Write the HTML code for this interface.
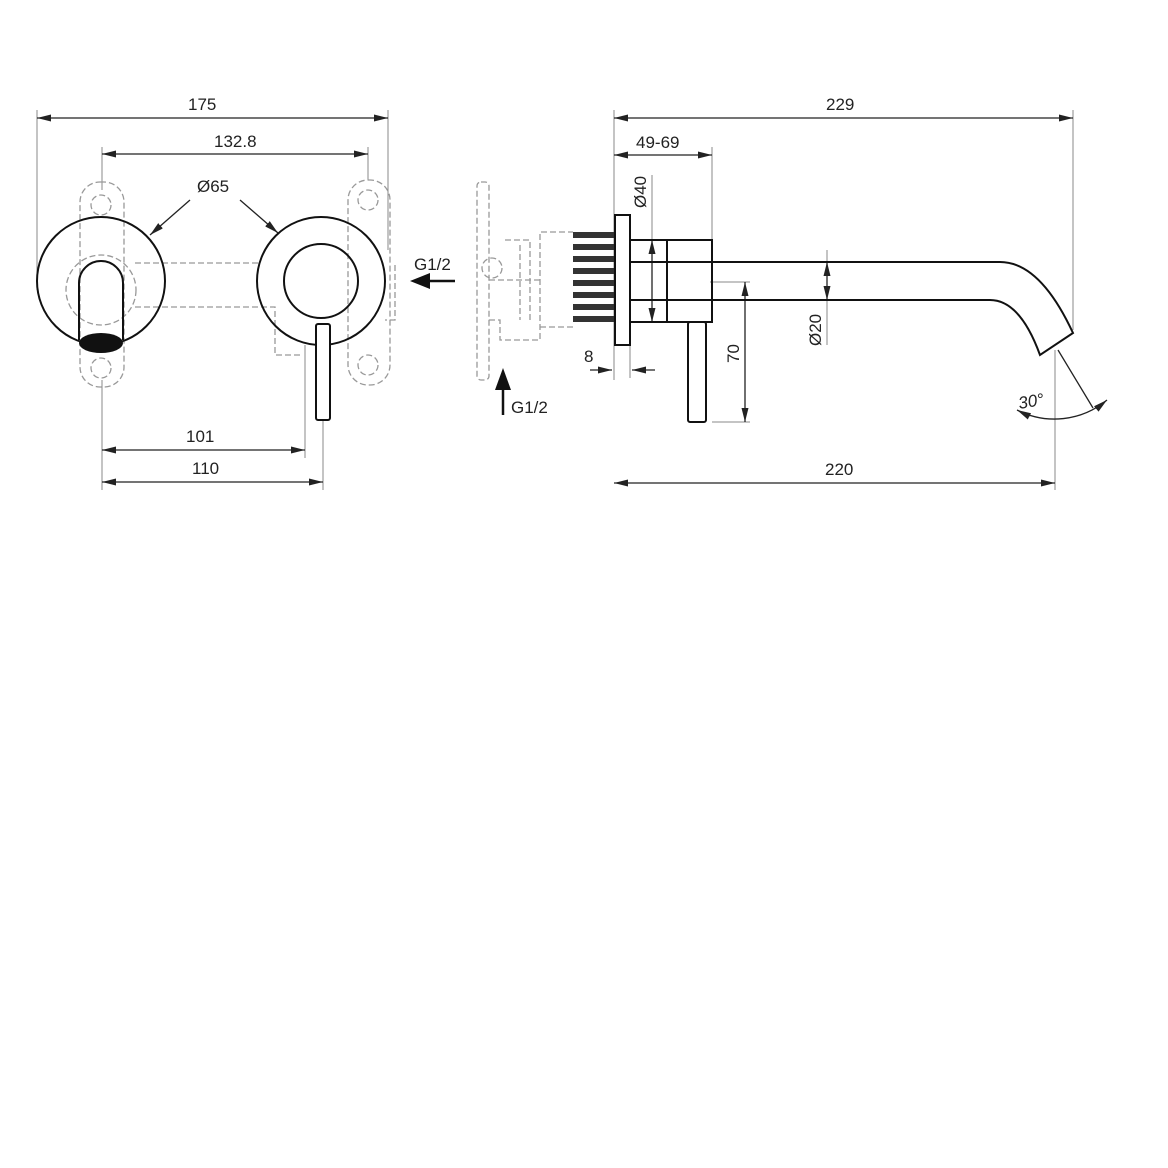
<!DOCTYPE html><html><head><style>body{margin:0;background:#fff}svg{display:block}text{font-family:"Liberation Sans",sans-serif;font-size:17px;fill:#222}</style></head><body>
<svg width="1168" height="1168" viewBox="0 0 1168 1168" xmlns="http://www.w3.org/2000/svg">
<defs><marker id="a" viewBox="0 0 12 6" refX="12" refY="3" markerWidth="14" markerHeight="7" markerUnits="userSpaceOnUse" orient="auto-start-reverse"><path d="M0,0L12,3L0,6z" fill="#222"/></marker></defs>
<g stroke="#888" stroke-width="1" fill="none">
<path d="M37,110V290M388,110V250M102,147V190M368,147V180M102,380V490M305,345V458M323,420V490M614,110V380M712,147V240M1073,110V330M1055,350V490M630,345V378M652,175V240M827,250V345M710,282H750M712,422H750"/>
</g>
<g stroke="#222" stroke-width="1.3" fill="none" marker-start="url(#a)" marker-end="url(#a)">
<line x1="37" y1="118" x2="388" y2="118"/><line x1="102" y1="154" x2="368" y2="154"/>
<line x1="102" y1="450" x2="305" y2="450"/><line x1="102" y1="482" x2="323" y2="482"/>
<line x1="614" y1="118" x2="1073" y2="118"/><line x1="614" y1="155" x2="712" y2="155"/>
<line x1="614" y1="483" x2="1055" y2="483"/><line x1="652" y1="240" x2="652" y2="322"/>
<line x1="745" y1="282" x2="745" y2="422"/><line x1="827" y1="262" x2="827" y2="300"/>
</g>
<g stroke="#222" stroke-width="1.3" fill="none">
<path d="M590,370H612" marker-end="url(#a)"/><path d="M655,370H632" marker-end="url(#a)"/>
<path d="M190,200L150,235" marker-end="url(#a)"/><path d="M240,200L278,233" marker-end="url(#a)"/>
<path d="M1058,350L1093,408"/>
<path d="M1017,410A82,82 0 0 0 1107,400" marker-start="url(#a)" marker-end="url(#a)"/>
</g>
<g stroke="#999" stroke-width="1.3" fill="none" stroke-dasharray="6,3">
<rect x="80" y="182" width="44" height="205" rx="20"/><rect x="348" y="180" width="42" height="205" rx="20"/>
<circle cx="101" cy="205" r="10"/><circle cx="101" cy="368" r="10"/><circle cx="368" cy="200" r="10"/><circle cx="368" cy="365" r="10"/>
<circle cx="101" cy="290" r="35"/>
<path d="M135,263H260M135,307H275V355H300M395,265V320H385"/>
<rect x="477" y="182" width="12" height="198" rx="4"/>
<path d="M489,280H540M489,320H500V340H540V232H573M540,327H573"/>
<path d="M505,240H530V320M520,245V320"/>
<circle cx="492" cy="268" r="10"/>
</g>
<g stroke="#111" stroke-width="2" fill="none">
<circle cx="101" cy="281" r="64"/><circle cx="321" cy="281" r="64"/><circle cx="321" cy="281" r="37"/>
<path d="M79,340V283A22,22 0 0 1 123,283V340"/>
<rect x="316" y="324" width="14" height="96" rx="2" fill="#fff"/>
<rect x="615" y="215" width="15" height="130"/>
<rect x="667" y="240" width="45" height="82"/>
<path d="M630,240H667M630,322H667"/>
<path d="M630,262H1000Q1040,262 1073,333L1040,355Q1020,300 990,300H630"/>
<rect x="688" y="322" width="18" height="100" rx="2" fill="#fff"/>
</g>
<ellipse cx="101" cy="343" rx="22" ry="10" fill="#111"/>
<g fill="#333"><rect x="573" y="232" width="41" height="6"/><rect x="573" y="244" width="41" height="6"/><rect x="573" y="256" width="41" height="6"/><rect x="573" y="268" width="41" height="6"/><rect x="573" y="280" width="41" height="6"/><rect x="573" y="292" width="41" height="6"/><rect x="573" y="304" width="41" height="6"/><rect x="573" y="316" width="41" height="6"/></g>
<g stroke="#111" stroke-width="2.5" fill="none"><path d="M455,281H428"/><path d="M503,415V388"/></g>
<path d="M410,281L430,273V289z" fill="#111"/><path d="M503,368L495,390H511z" fill="#111"/>
<text x="188" y="110">175</text><text x="214" y="147">132.8</text><text x="197" y="192">Ø65</text>
<text x="186" y="442">101</text><text x="192" y="474">110</text>
<text x="414" y="270">G1/2</text><text x="511" y="413">G1/2</text>
<text x="826" y="110">229</text><text x="636" y="148">49-69</text><text x="825" y="475">220</text><text x="584" y="362">8</text>
<text transform="translate(646,208) rotate(-90)">Ø40</text><text transform="translate(739,363) rotate(-90)">70</text><text transform="translate(821,346) rotate(-90)">Ø20</text>
<text x="1018" y="407" font-style="italic" transform="rotate(-10 1030 400)">30°</text>
</svg></body></html>
